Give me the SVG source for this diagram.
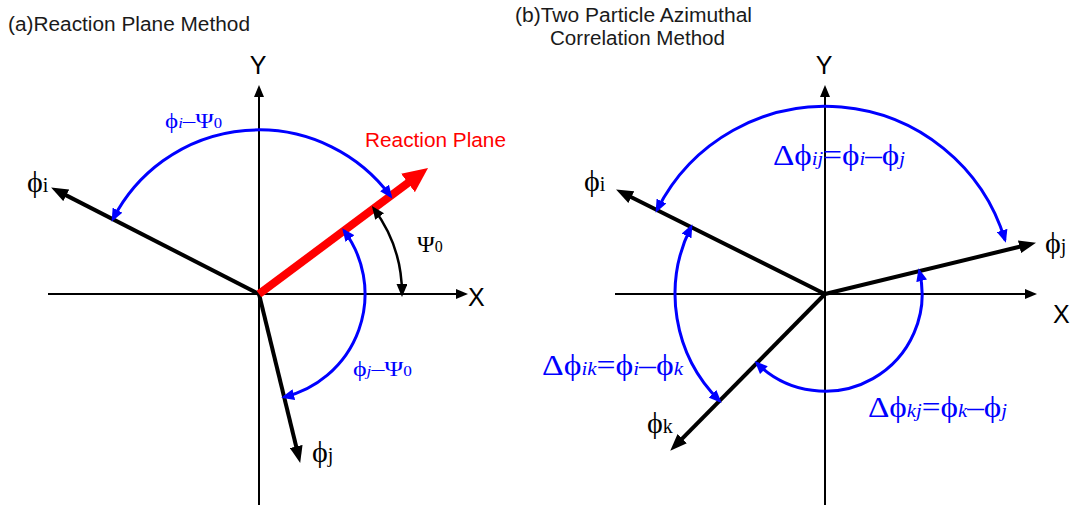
<svg xmlns="http://www.w3.org/2000/svg" width="1071" height="508" viewBox="0 0 1071 508">
<style>
.title{font-family:"Liberation Sans",Arial,sans-serif;font-size:20px;fill:#1a1a1a}
.axlbl{font-family:"Liberation Sans",Arial,sans-serif;font-size:25px;fill:#000}
.phi{font-family:"Liberation Serif","Times New Roman",serif;font-size:30px;fill:#000}
.sub{font-size:20px}
.bl{font-family:"Liberation Serif","Times New Roman",serif;fill:#0000ff}
.it{font-style:italic}
.axis{stroke:#000;stroke-width:2;fill:none;marker-end:url(#axA)}
.vec{stroke:#000;stroke-width:4;fill:none;marker-end:url(#vecA)}
.barc{stroke:#0000ff;stroke-width:3;fill:none;marker-start:url(#bluA);marker-end:url(#bluA)}
.karc{stroke:#000;stroke-width:2.5;fill:none;marker-start:url(#blkA);marker-end:url(#blkA)}
</style>
<defs>
<marker id="axA" markerUnits="userSpaceOnUse" markerWidth="12" markerHeight="10" refX="4" refY="5" orient="auto"><path d="M0,0 L12,5 L0,10 z" fill="#000"/></marker>
<marker id="vecA" markerUnits="userSpaceOnUse" markerWidth="17" markerHeight="13" refX="6" refY="6.5" orient="auto"><path d="M0,0 L17,6.5 L0,13 z" fill="#000"/></marker>
<marker id="redA" markerUnits="userSpaceOnUse" markerWidth="25" markerHeight="23" refX="7" refY="11.5" orient="auto"><path d="M0,0 L25,11.5 L0,23 z" fill="#ff0000"/></marker>
<marker id="bluA" markerUnits="userSpaceOnUse" markerWidth="13" markerHeight="11" refX="10" refY="5.5" orient="auto-start-reverse"><path d="M0,0 L13,5.5 L0,11 z" fill="#0000ff"/></marker>
<marker id="blkA" markerUnits="userSpaceOnUse" markerWidth="13" markerHeight="11" refX="10" refY="5.5" orient="auto-start-reverse"><path d="M0,0 L13,5.5 L0,11 z" fill="#000"/></marker>
</defs>

<g id="titles">
<text class="title" x="8" y="31" textLength="242" lengthAdjust="spacingAndGlyphs">(a)Reaction Plane Method</text>
<text class="title" x="515" y="22" textLength="237" lengthAdjust="spacingAndGlyphs">(b)Two Particle Azimuthal</text>
<text class="title" x="550" y="45" textLength="175" lengthAdjust="spacingAndGlyphs">Correlation Method</text>
</g>

<g id="connectors">
<!-- panel a -->
<path class="axis" d="M48,294 L460,294"/>
<path class="axis" d="M259,505 L259,93"/>
<path class="vec" d="M259,294 L60.9,192.6"/>
<path class="vec" d="M259,294 L297.6,452.3"/>
<path d="M259,294 L413.6,178.8" stroke="#ff0000" stroke-width="8" fill="none" marker-end="url(#redA)"/>
<path class="barc" d="M113,219 A164,164 0 0 1 390.5,196"/>
<path class="karc" d="M373.7,208.5 A143,143 0 0 1 402,294"/>
<path class="barc" d="M344,230.6 A106,106 0 0 1 284.1,397"/>
<!-- panel b -->
<path class="axis" d="M615,294 L1029,294"/>
<path class="axis" d="M825,505 L825,93"/>
<path class="vec" d="M825,294 L625.9,194.5"/>
<path class="vec" d="M825,294 L1025.3,245.4"/>
<path class="vec" d="M825,294 L678,442.9"/>
<path class="barc" d="M657,210 A188,188 0 0 1 1005,240"/>
<path class="barc" d="M691,227 A150,150 0 0 0 719.5,400.8"/>
<path class="barc" d="M756.8,363.1 A97,97 0 0 0 919.3,271.1"/>
</g>

<g id="node-a-axes">
<text class="axlbl" x="258" y="74" text-anchor="middle">Y</text>
<text class="axlbl" x="468" y="306">X</text>
</g>
<g id="node-a-phi-i"><text class="phi" x="27" y="192">ϕ<tspan class="sub">i</tspan></text></g>
<g id="node-a-phi-j"><text class="phi" x="312" y="462">ϕ<tspan class="sub">j</tspan></text></g>
<g id="node-a-rp"><text x="365" y="147" font-family="Liberation Sans,Arial,sans-serif" font-size="20.5" fill="#ff0000" textLength="141" lengthAdjust="spacingAndGlyphs">Reaction Plane</text></g>
<g id="node-a-psi"><text x="417" y="252" font-family="Liberation Serif,Times New Roman,serif" font-size="24" fill="#000">Ψ<tspan font-size="16">0</tspan></text></g>
<g id="node-a-lbl1"><text class="bl" x="165" y="128" font-size="21" textLength="57" lengthAdjust="spacingAndGlyphs">ϕ<tspan class="it" font-size="14">i</tspan>–Ψ<tspan font-size="14">0</tspan></text></g>
<g id="node-a-lbl2"><text class="bl" x="353" y="376" font-size="21" textLength="59" lengthAdjust="spacingAndGlyphs">ϕ<tspan class="it" font-size="14">j</tspan>–Ψ<tspan font-size="14">0</tspan></text></g>

<g id="node-b-axes">
<text class="axlbl" x="824" y="74" text-anchor="middle">Y</text>
<text class="axlbl" x="1053" y="323">X</text>
</g>
<g id="node-b-phi-i"><text class="phi" x="584" y="191">ϕ<tspan class="sub">i</tspan></text></g>
<g id="node-b-phi-j"><text class="phi" x="1045" y="253">ϕ<tspan class="sub">j</tspan></text></g>
<g id="node-b-phi-k"><text class="phi" x="647" y="433">ϕ<tspan class="sub">k</tspan></text></g>
<g id="node-b-lbl-ij"><text class="bl" x="773" y="165" font-size="29" textLength="132" lengthAdjust="spacingAndGlyphs">Δϕ<tspan class="it" font-size="18">ij</tspan>=ϕ<tspan class="it" font-size="18">i</tspan>–ϕ<tspan class="it" font-size="18">j</tspan></text></g>
<g id="node-b-lbl-ik"><text class="bl" x="542" y="375" font-size="29" textLength="141" lengthAdjust="spacingAndGlyphs">Δϕ<tspan class="it" font-size="18">ik</tspan>=ϕ<tspan class="it" font-size="18">i</tspan>–ϕ<tspan class="it" font-size="18">k</tspan></text></g>
<g id="node-b-lbl-kj"><text class="bl" x="868" y="417" font-size="29" textLength="139" lengthAdjust="spacingAndGlyphs">Δϕ<tspan class="it" font-size="18">kj</tspan>=ϕ<tspan class="it" font-size="18">k</tspan>–ϕ<tspan class="it" font-size="18">j</tspan></text></g>
</svg>
